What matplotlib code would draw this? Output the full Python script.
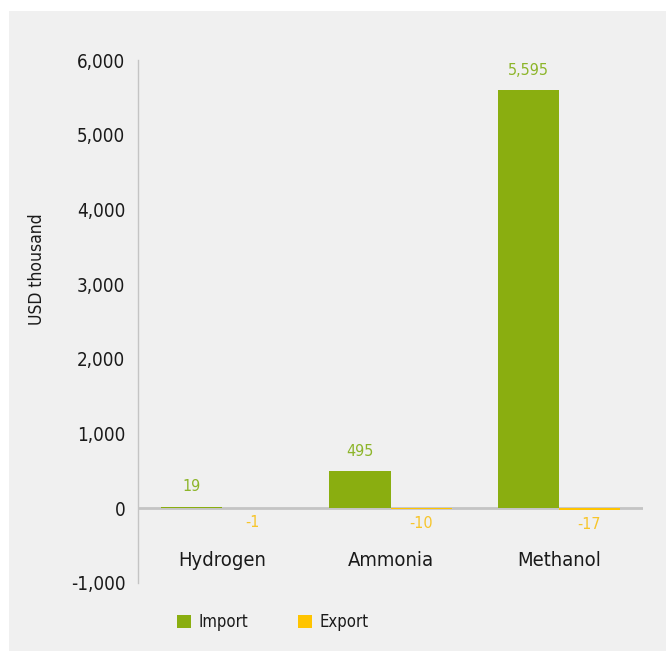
import matplotlib
matplotlib.use("Agg")
import matplotlib.pyplot as plt
from matplotlib.patches import Rectangle
from matplotlib.ticker import FuncFormatter
import numpy as np

categories = ["Hydrogen", "Ammonia", "Methanol"]
import_vals = [19, 495, 5595]
export_vals = [-1, -10, -17]
series_names = ["Import", "Export"]
yticks = [-1000, 0, 1000, 2000, 3000, 4000, 5000, 6000]

GREEN = "#8aae10"
YELLOW = "#ffc400"
GREEN_TXT = "#8db52a"
YELLOW_TXT = "#f7c52a"
PANEL = "#f0f0f0"
FONT = dict(family="DejaVu Sans", stretch="condensed")

W, H = 666, 651
fig = plt.figure(figsize=(W / 100, H / 100), dpi=100)
fig.patch.set_facecolor("white")
fig.patches.append(Rectangle((9 / W, 0), 1, 1 - 11 / H, transform=fig.transFigure,
                             facecolor=PANEL, edgecolor="none", zorder=-10))

ax = fig.add_axes([138 / W, 1 - 583 / H, (643 - 138) / W, (583 - 60) / H])
ax.set_facecolor("none")

x = np.arange(len(categories))
bw = 0.363
b1 = ax.bar(x - bw / 2, import_vals, bw, color=GREEN, label=series_names[0], zorder=3)
b2 = ax.bar(x + bw / 2, export_vals, bw, color=YELLOW, label=series_names[1], zorder=3)

ax.set_xlim(-0.5, 2.5)
ax.set_ylim(-1000, 6000)
ax.set_yticks(yticks)
ax.yaxis.set_major_formatter(FuncFormatter(lambda v, p: f"{int(v):,}"))
ax.tick_params(axis="y", length=0, pad=9, labelsize=13.5, labelcolor="#1a1a1a")
for lab in ax.get_yticklabels():
    lab.set_fontstretch("condensed")
ax.set_xticks([])

for s in ["top", "right", "bottom"]:
    ax.spines[s].set_visible(False)
ax.spines["left"].set_color("#c4c4c4")
ax.spines["left"].set_linewidth(1.0)
ax.axhline(0, color="#c4c4c4", linewidth=2.0, zorder=2)

for xi, v in zip(x, import_vals):
    ax.annotate(f"{v:,}", (xi - bw / 2, v), xytext=(0, 9), textcoords="offset points",
                ha="center", va="bottom", color=GREEN_TXT, fontsize=11.5, **FONT)
for xi, v in zip(x, export_vals):
    ax.annotate(f"{v:,}", (xi + bw / 2, v), xytext=(0, -5), textcoords="offset points",
                ha="center", va="top", color=YELLOW_TXT, fontsize=11.5, **FONT)

for xi, c in zip(x, categories):
    ax.annotate(c, (xi, 0), xytext=(0, -31), textcoords="offset points",
                ha="center", va="top", color="#1a1a1a", fontsize=14.5, **FONT)

fig.text(37 / W, 1 - 269 / H, "USD thousand", rotation=90, ha="center", va="center",
         fontsize=12.5, color="#1a1a1a", **FONT)

leg = fig.legend(handles=[b1, b2], labels=series_names, loc="center",
                 bbox_to_anchor=(273 / W, 1 - 622 / H), ncol=2, frameon=False,
                 handlelength=0.85, handleheight=0.85, handletextpad=0.45, columnspacing=3.0,
                 prop=dict(size=12, **FONT))
for t in leg.get_texts():
    t.set_color("#1a1a1a")

fig.savefig("out.png", dpi=100, facecolor=fig.get_facecolor())
